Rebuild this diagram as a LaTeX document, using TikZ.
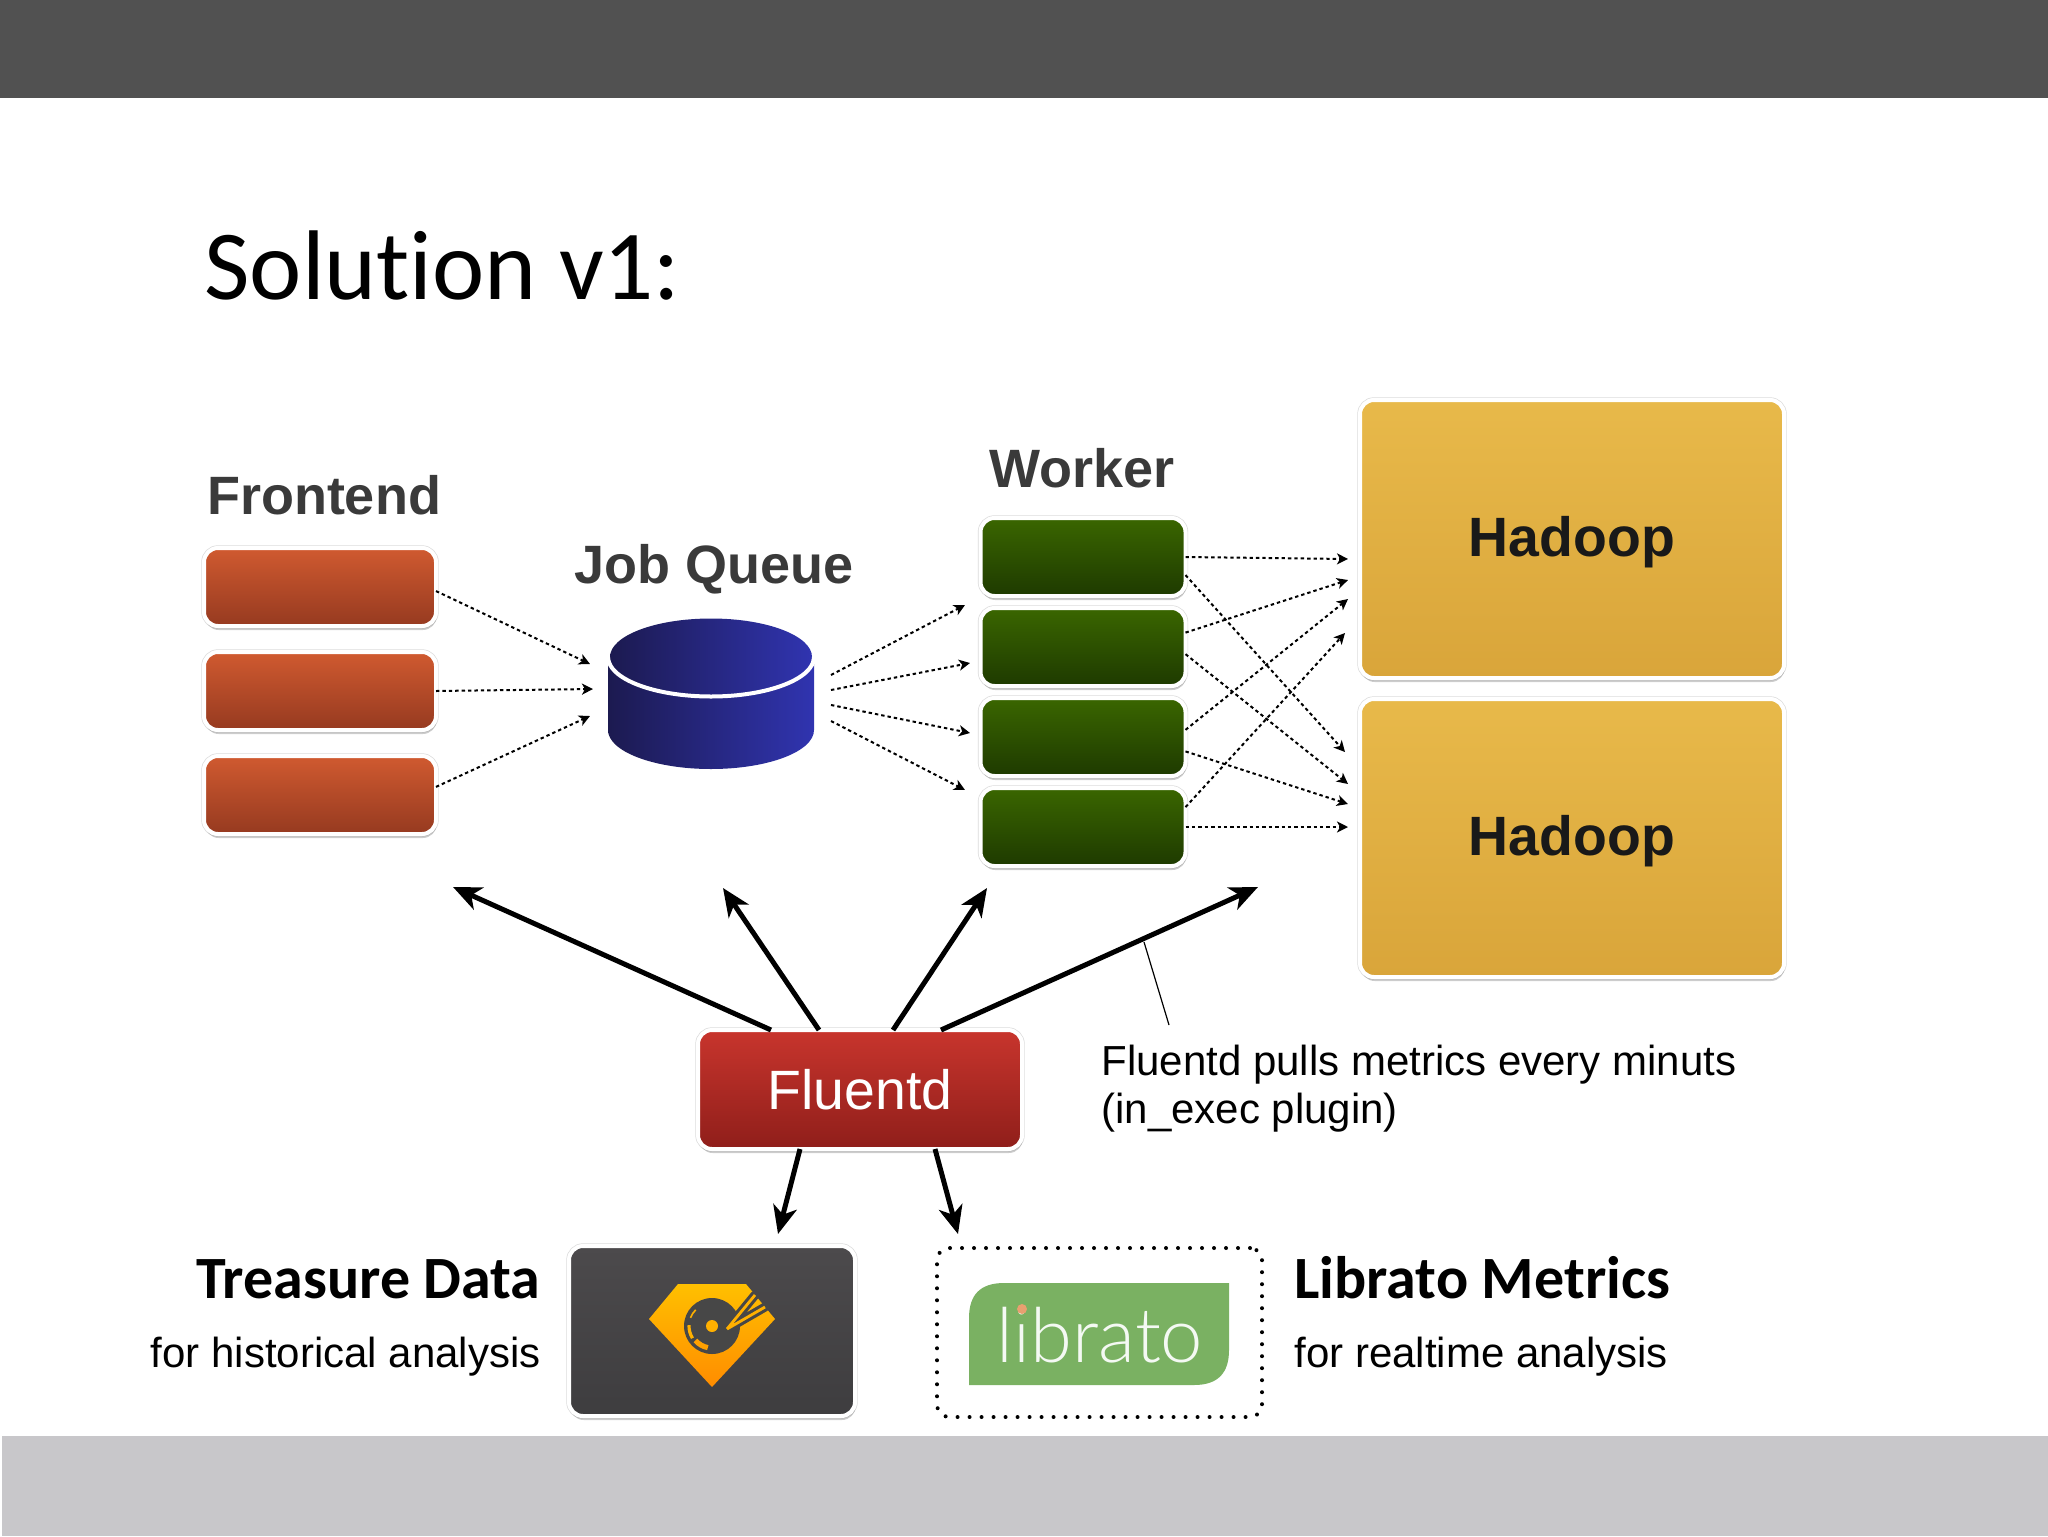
\documentclass[tikz,border=0pt]{standalone}
\usepackage{fontspec}
\setmainfont{Liberation Sans}
\newfontfamily\titlefont[Ligatures=NoCommon]{Carlito}
\newfontfamily\logofont{Lato Light}
\usepackage{tikz}
\usetikzlibrary{positioning,shapes.geometric,shadows,arrows.meta,calc}
\definecolor{bar}{HTML}{515151}
\definecolor{footbar}{HTML}{C8C7CA}
\definecolor{headingtext}{HTML}{3A3A3A}
\definecolor{tdback}{HTML}{474747}
\definecolor{logogreen}{HTML}{7AB162}
\definecolor{logodot}{HTML}{E8A070}
\definecolor{frontendtop}{HTML}{D05A30}
\definecolor{frontendbot}{HTML}{963A20}
\definecolor{workertop}{HTML}{3A6600}
\definecolor{workerbot}{HTML}{1E3A00}
\definecolor{hadooptop}{HTML}{E8B94A}
\definecolor{hadoopbot}{HTML}{D9A53A}
\definecolor{queuedark}{HTML}{1C1A50}
\definecolor{queuelight}{HTML}{3034B0}
\definecolor{fluentdtop}{HTML}{C8352D}
\definecolor{fluentdbot}{HTML}{8F1E1A}
\definecolor{tdtop}{HTML}{4C4A4C}
\definecolor{tdbot}{HTML}{3E3D3F}
\definecolor{gemtop}{HTML}{FFC000}
\definecolor{gembot}{HTML}{FF8C00}
\definecolor{gemmid}{HTML}{FFB000}
\definecolor{gemlow}{HTML}{FFA000}
\begin{document}
\begin{tikzpicture}[
		x=.5pt, y=-.5pt
		,box/.style={rectangle, draw=white, line width=2pt, rounded corners=7pt, inner sep=0pt, outer sep=0pt, preaction={draw=black!14, line width=2.7pt}, drop shadow={shadow xshift=.4pt, shadow yshift=-2pt, opacity=.4}}
		,frontend/.style={box, top color=frontendtop, bottom color=frontendbot, minimum width=116pt, minimum height=39pt}
		,worker/.style={box, top color=workertop, bottom color=workerbot, minimum width=102.5pt, minimum height=39pt}
		,hadoop/.style={box, top color=hadooptop, bottom color=hadoopbot, minimum width=212pt, minimum height=139pt, text height=19.8pt, text depth=2.8pt, text=black!90, font=\fontsize{27.7}{30}\selectfont\bfseries}
		,pagetitle/.style={anchor=base west, inner sep=0pt, font=\fontsize{49.5}{52}\selectfont\titlefont}
		,grouplabel/.style={anchor=base, text=headingtext, font=\fontsize{27}{30}\selectfont\bfseries}
		,brand/.style={inner sep=0pt, font=\fontsize{30}{32}\selectfont\titlefont\bfseries}
		,caption/.style={inner sep=0pt, font=\fontsize{21}{24}\selectfont}
		,pull/.style={line width=2.5pt, -{Stealth[length=14pt, width=12pt, inset=4pt]}}
		,flow/.style={line width=1pt, dash pattern=on 1.7pt off 1.5pt, -{Stealth[length=5.5pt, width=5.5pt, inset=1.5pt]}}
	]
		\useasboundingbox (0,0) rectangle (2048,1536);
		\fill[bar] (0,0) rectangle (2048,98);
		\fill[footbar] (2,1436) rectangle (2048,1536);

		\node[pagetitle] (title) at (204,299) {Solution v1:};

		\node[frontend] (f1) at (320,587) {};
		\node[frontend, below=13pt of f1] (f2) {};
		\node[frontend, below=13pt of f2] (f3) {};
		\node[grouplabel] (frontendlabel) at (324,514) {Frontend};

		\shade[left color=queuedark, right color=queuelight] (608,664) -- (608,730) arc[start angle=180, end angle=0, x radius=103, y radius=39] -- (814,664) -- cycle;
		\node[ellipse, inner sep=0pt, outer sep=0pt, minimum width=101pt, minimum height=38.5pt, left color=queuedark, right color=queuelight] (queue) at (711,657) {};
		\draw[white, line width=2pt] ([xshift=-51.5pt]queue.center) arc[start angle=180, end angle=0, x radius=103, y radius=39.5];
		\node[grouplabel] (queuelabel) at (714,583) {Job Queue};

		\node[worker] (w1) at (1083,557) {};
		\node[worker, below=6pt of w1] (w2) {};
		\node[worker, below=6pt of w2] (w3) {};
		\node[worker, below=6pt of w3] (w4) {};
		\node[grouplabel] (workerlabel) at (1082,487) {Worker};

		\node[hadoop] (h1) at (1572,539) {Hadoop};
		\node[hadoop, below=10.5pt of h1] (h2) {Hadoop};

		\node[box, top color=fluentdtop, bottom color=fluentdbot, minimum width=162pt, minimum height=59.5pt, text=white, font=\fontsize{27.7}{30}\selectfont] (fluentd) at (860,1089.5) {Fluentd};
		\node[caption, anchor=base west, align=left] (pullnote) at (1101,1123) {Fluentd pulls metrics every minuts\\(in\_exec plugin)};

		\node[box, top color=tdtop, bottom color=tdbot, minimum width=143pt, minimum height=85pt] (td) at (712,1331) {};
		\node[brand, anchor=base east] (tdname) at (541,1298) {Treasure Data};
		\node[caption, anchor=base east] (tdnote) at (541,1367) {for historical analysis};

		\shade[top color=gemtop, bottom color=gembot] (649,1319) -- (678,1284) -- (746,1284) -- (775,1319) -- (712,1387) -- cycle;
		\fill[tdback] (712,1326) circle (28);
		\fill[gemmid] (712,1326) circle (6);
		\draw[gemmid, line width=.8pt] ($(712,1326)+(-135:23)$) arc[start angle=-135, end angle=-159, radius=23];
		\draw[gemmid, line width=1.6pt] ($(712,1326)+(-178:23)$) arc[start angle=-178, end angle=-212, radius=23];
		\draw[gemlow, line width=2.6pt] ($(712,1326)+(-221:22)$) arc[start angle=-221, end angle=-259, radius=22];
		\draw[tdback, line width=4.5pt, line cap=round] (727,1329) -- (755,1295) (727,1329) -- (765,1307);
		\draw[gemmid, line width=1.4pt] (727,1329) -- (755,1295) (727,1329) -- (765,1307);

		\node[draw=black, line width=2pt, line cap=round, dash pattern=on 0pt off 6pt, rounded corners=6pt, inner sep=0pt, minimum width=162.5pt, minimum height=84.5pt] (libratobox) at (1099.5,1332.5) {};
		\fill[logogreen] (969,1385) -- (969,1318) .. controls (969,1295) and (980,1283) .. (1004,1283) -- (1229,1283) -- (1229,1350) .. controls (1229,1373) and (1218,1385) .. (1194,1385) -- cycle;
		\node[anchor=base, text=white!92!logogreen, font=\fontsize{38}{42}\selectfont\logofont] (libratologo) at (1100,1362) {librato};
		\fill[logodot] (1022,1309) circle (5);
		\node[brand, anchor=base west] (libratoname) at (1294,1298) {Librato Metrics};
		\node[caption, anchor=base west] (libratonote) at (1294,1367) {for realtime analysis};

		\coordinate (qa) at (590,664);
		\coordinate (qb) at (593,689);
		\coordinate (qc) at (590,716);
		\draw[flow] (f1.-2) -- (qa);
		\draw[flow] (f2.east) -- (qb);
		\draw[flow] (f3.4) -- (qc);

		\coordinate (wa) at (965,605);
		\coordinate (wb) at (970,663);
		\coordinate (wc) at (970,733);
		\coordinate (wd) at (965,790);
		\draw[flow] ([xshift=9.5pt, yshift=-9pt]queue.east) -- (wa);
		\draw[flow] ([xshift=9.5pt, yshift=-16.5pt]queue.east) -- (wb);
		\draw[flow] ([xshift=9.5pt, yshift=-24pt]queue.east) -- (wc);
		\draw[flow] ([xshift=9.5pt, yshift=-32pt]queue.east) -- (wd);

		\coordinate (ha) at (1348,559);
		\coordinate (hb) at (1348,580);
		\coordinate (hc) at (1348,599);
		\coordinate (hd) at (1345,633);
		\coordinate (he) at (1345,752);
		\coordinate (hf) at (1348,784);
		\coordinate (hg) at (1348,804);
		\coordinate (hh) at (1348,827);
		\draw[flow] (w1.east) -- (ha);
		\draw[flow] (w1.-10) -- (he);
		\draw[flow] (w2.8) -- (hb);
		\draw[flow] (w2.-4) -- (hf);
		\draw[flow] (w3.4) -- (hc);
		\draw[flow] (w3.-8) -- (hg);
		\draw[flow] (w4.11) -- (hd);
		\draw[flow] (w4.east) -- (hh);

		\coordinate (pa) at (453,887);
		\coordinate (pb) at (723,888);
		\coordinate (pc) at (987,888);
		\coordinate (pd) at (1258,887);
		\coordinate (pe) at (778,1234);
		\coordinate (pf) at (958,1234);
		\draw[pull] ([xshift=-44.5pt]fluentd.north) -- (pa);
		\draw[pull] ([xshift=-20.5pt]fluentd.north) -- (pb);
		\draw[pull] ([xshift=16.5pt]fluentd.north) -- (pc);
		\draw[pull] ([xshift=40.5pt]fluentd.north) -- (pd);
		\draw[pull] ([xshift=-30pt]fluentd.south) -- (pe);
		\draw[pull] ([xshift=37.5pt]fluentd.south) -- (pf);

		\coordinate (notefrom) at (1144,942);
		\coordinate (noteto) at (1169,1025);
		\draw[line width=.6pt] (notefrom) -- (noteto);
	\end{tikzpicture}
\end{document}
